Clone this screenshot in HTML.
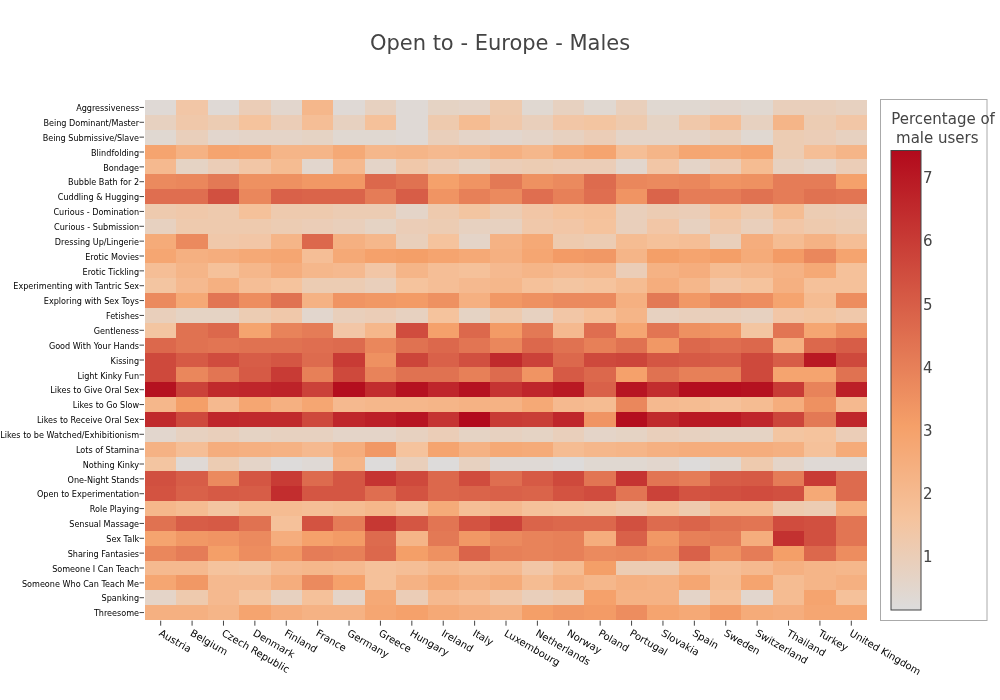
<!DOCTYPE html>
<html><head><meta charset="utf-8"><title>Open to - Europe - Males</title>
<style>html,body{margin:0;padding:0;background:#fff}svg{display:block;will-change:transform}text{font-family:"DejaVu Sans","Liberation Sans",sans-serif;fill:#444;white-space:pre}.yl{font-size:8.1px;text-anchor:end;fill:#000}.xl{font-size:10px;text-anchor:start;fill:#000}.cb{font-size:15px}.hm rect{shape-rendering:crispEdges}.tk{stroke:#444;stroke-width:1;fill:none}</style></head><body>
<svg width="1000" height="700" viewBox="0 0 1000 700">
<rect width="1000" height="700" fill="#fff"/>
<g class="hm">
<rect x="145" y="100" width="31" height="15" fill="rgb(223,217,213)"/>
<rect x="176" y="100" width="32" height="15" fill="rgb(242,198,166)"/>
<rect x="208" y="100" width="31" height="15" fill="rgb(223,217,213)"/>
<rect x="239" y="100" width="32" height="15" fill="rgb(235,205,183)"/>
<rect x="271" y="100" width="31" height="15" fill="rgb(226,214,205)"/>
<rect x="302" y="100" width="31" height="15" fill="rgb(245,183,139)"/>
<rect x="333" y="100" width="32" height="15" fill="rgb(223,217,213)"/>
<rect x="365" y="100" width="31" height="15" fill="rgb(231,209,192)"/>
<rect x="396" y="100" width="32" height="15" fill="rgb(223,217,213)"/>
<rect x="428" y="100" width="31" height="15" fill="rgb(229,211,196)"/>
<rect x="459" y="100" width="31" height="15" fill="rgb(228,212,200)"/>
<rect x="490" y="100" width="32" height="15" fill="rgb(238,202,174)"/>
<rect x="522" y="100" width="31" height="15" fill="rgb(224,216,209)"/>
<rect x="553" y="100" width="31" height="15" fill="rgb(231,209,192)"/>
<rect x="584" y="100" width="32" height="15" fill="rgb(224,216,209)"/>
<rect x="616" y="100" width="31" height="15" fill="rgb(233,207,187)"/>
<rect x="647" y="100" width="32" height="15" fill="rgb(224,216,209)"/>
<rect x="679" y="100" width="31" height="15" fill="rgb(224,216,209)"/>
<rect x="710" y="100" width="31" height="15" fill="rgb(226,214,205)"/>
<rect x="741" y="100" width="32" height="15" fill="rgb(224,216,209)"/>
<rect x="773" y="100" width="31" height="15" fill="rgb(233,207,187)"/>
<rect x="804" y="100" width="32" height="15" fill="rgb(233,207,187)"/>
<rect x="836" y="100" width="31" height="15" fill="rgb(231,209,192)"/>
<rect x="145" y="115" width="31" height="15" fill="rgb(231,209,192)"/>
<rect x="176" y="115" width="32" height="15" fill="rgb(240,200,170)"/>
<rect x="208" y="115" width="31" height="15" fill="rgb(236,204,179)"/>
<rect x="239" y="115" width="32" height="15" fill="rgb(245,195,157)"/>
<rect x="271" y="115" width="31" height="15" fill="rgb(235,205,183)"/>
<rect x="302" y="115" width="31" height="15" fill="rgb(245,190,150)"/>
<rect x="333" y="115" width="32" height="15" fill="rgb(231,209,192)"/>
<rect x="365" y="115" width="31" height="15" fill="rgb(245,193,154)"/>
<rect x="396" y="115" width="32" height="15" fill="rgb(223,217,213)"/>
<rect x="428" y="115" width="31" height="15" fill="rgb(238,202,174)"/>
<rect x="459" y="115" width="31" height="15" fill="rgb(245,188,146)"/>
<rect x="490" y="115" width="32" height="15" fill="rgb(240,200,170)"/>
<rect x="522" y="115" width="31" height="15" fill="rgb(233,207,187)"/>
<rect x="553" y="115" width="31" height="15" fill="rgb(242,198,166)"/>
<rect x="584" y="115" width="32" height="15" fill="rgb(243,197,161)"/>
<rect x="616" y="115" width="31" height="15" fill="rgb(238,202,174)"/>
<rect x="647" y="115" width="32" height="15" fill="rgb(229,211,196)"/>
<rect x="679" y="115" width="31" height="15" fill="rgb(240,200,170)"/>
<rect x="710" y="115" width="31" height="15" fill="rgb(245,190,150)"/>
<rect x="741" y="115" width="32" height="15" fill="rgb(231,209,192)"/>
<rect x="773" y="115" width="31" height="15" fill="rgb(245,181,136)"/>
<rect x="804" y="115" width="32" height="15" fill="rgb(236,204,179)"/>
<rect x="836" y="115" width="31" height="15" fill="rgb(242,198,166)"/>
<rect x="145" y="130" width="31" height="15" fill="rgb(224,216,209)"/>
<rect x="176" y="130" width="32" height="15" fill="rgb(233,207,187)"/>
<rect x="208" y="130" width="31" height="15" fill="rgb(226,214,205)"/>
<rect x="239" y="130" width="32" height="15" fill="rgb(228,212,200)"/>
<rect x="271" y="130" width="31" height="15" fill="rgb(228,212,200)"/>
<rect x="302" y="130" width="31" height="15" fill="rgb(229,211,196)"/>
<rect x="333" y="130" width="32" height="15" fill="rgb(224,216,209)"/>
<rect x="365" y="130" width="31" height="15" fill="rgb(224,216,209)"/>
<rect x="396" y="130" width="32" height="15" fill="rgb(223,217,213)"/>
<rect x="428" y="130" width="31" height="15" fill="rgb(233,207,187)"/>
<rect x="459" y="130" width="31" height="15" fill="rgb(228,212,200)"/>
<rect x="490" y="130" width="32" height="15" fill="rgb(226,214,205)"/>
<rect x="522" y="130" width="31" height="15" fill="rgb(228,212,200)"/>
<rect x="553" y="130" width="31" height="15" fill="rgb(231,209,192)"/>
<rect x="584" y="130" width="32" height="15" fill="rgb(235,205,183)"/>
<rect x="616" y="130" width="31" height="15" fill="rgb(228,212,200)"/>
<rect x="647" y="130" width="32" height="15" fill="rgb(228,212,200)"/>
<rect x="679" y="130" width="31" height="15" fill="rgb(228,212,200)"/>
<rect x="710" y="130" width="31" height="15" fill="rgb(231,209,192)"/>
<rect x="741" y="130" width="32" height="15" fill="rgb(224,216,209)"/>
<rect x="773" y="130" width="31" height="15" fill="rgb(236,204,179)"/>
<rect x="804" y="130" width="32" height="15" fill="rgb(235,205,183)"/>
<rect x="836" y="130" width="31" height="15" fill="rgb(231,209,192)"/>
<rect x="145" y="145" width="31" height="14" fill="rgb(245,164,111)"/>
<rect x="176" y="145" width="32" height="14" fill="rgb(245,178,132)"/>
<rect x="208" y="145" width="31" height="14" fill="rgb(245,164,111)"/>
<rect x="239" y="145" width="32" height="14" fill="rgb(245,166,114)"/>
<rect x="271" y="145" width="31" height="14" fill="rgb(245,181,136)"/>
<rect x="302" y="145" width="31" height="14" fill="rgb(245,181,136)"/>
<rect x="333" y="145" width="32" height="14" fill="rgb(245,169,118)"/>
<rect x="365" y="145" width="31" height="14" fill="rgb(245,183,139)"/>
<rect x="396" y="145" width="32" height="14" fill="rgb(245,181,136)"/>
<rect x="428" y="145" width="31" height="14" fill="rgb(245,185,143)"/>
<rect x="459" y="145" width="31" height="14" fill="rgb(245,183,139)"/>
<rect x="490" y="145" width="32" height="14" fill="rgb(245,176,129)"/>
<rect x="522" y="145" width="31" height="14" fill="rgb(245,183,139)"/>
<rect x="553" y="145" width="31" height="14" fill="rgb(245,171,121)"/>
<rect x="584" y="145" width="32" height="14" fill="rgb(245,164,111)"/>
<rect x="616" y="145" width="31" height="14" fill="rgb(245,190,150)"/>
<rect x="647" y="145" width="32" height="14" fill="rgb(245,181,136)"/>
<rect x="679" y="145" width="31" height="14" fill="rgb(245,166,114)"/>
<rect x="710" y="145" width="31" height="14" fill="rgb(245,169,118)"/>
<rect x="741" y="145" width="32" height="14" fill="rgb(245,164,111)"/>
<rect x="773" y="145" width="31" height="14" fill="rgb(236,204,179)"/>
<rect x="804" y="145" width="32" height="14" fill="rgb(245,190,150)"/>
<rect x="836" y="145" width="31" height="14" fill="rgb(245,181,136)"/>
<rect x="145" y="159" width="31" height="15" fill="rgb(245,185,143)"/>
<rect x="176" y="159" width="32" height="15" fill="rgb(229,211,196)"/>
<rect x="208" y="159" width="31" height="15" fill="rgb(235,205,183)"/>
<rect x="239" y="159" width="32" height="15" fill="rgb(242,198,166)"/>
<rect x="271" y="159" width="31" height="15" fill="rgb(245,188,146)"/>
<rect x="302" y="159" width="31" height="15" fill="rgb(226,214,205)"/>
<rect x="333" y="159" width="32" height="15" fill="rgb(245,185,143)"/>
<rect x="365" y="159" width="31" height="15" fill="rgb(228,212,200)"/>
<rect x="396" y="159" width="32" height="15" fill="rgb(240,200,170)"/>
<rect x="428" y="159" width="31" height="15" fill="rgb(235,205,183)"/>
<rect x="459" y="159" width="31" height="15" fill="rgb(229,211,196)"/>
<rect x="490" y="159" width="32" height="15" fill="rgb(235,205,183)"/>
<rect x="522" y="159" width="31" height="15" fill="rgb(236,204,179)"/>
<rect x="553" y="159" width="31" height="15" fill="rgb(235,205,183)"/>
<rect x="584" y="159" width="32" height="15" fill="rgb(235,205,183)"/>
<rect x="616" y="159" width="31" height="15" fill="rgb(226,214,205)"/>
<rect x="647" y="159" width="32" height="15" fill="rgb(242,198,166)"/>
<rect x="679" y="159" width="31" height="15" fill="rgb(228,212,200)"/>
<rect x="710" y="159" width="31" height="15" fill="rgb(235,205,183)"/>
<rect x="741" y="159" width="32" height="15" fill="rgb(245,188,146)"/>
<rect x="773" y="159" width="31" height="15" fill="rgb(231,209,192)"/>
<rect x="804" y="159" width="32" height="15" fill="rgb(228,212,200)"/>
<rect x="836" y="159" width="31" height="15" fill="rgb(235,205,183)"/>
<rect x="145" y="174" width="31" height="15" fill="rgb(235,138,94)"/>
<rect x="176" y="174" width="32" height="15" fill="rgb(234,135,92)"/>
<rect x="208" y="174" width="31" height="15" fill="rgb(227,121,85)"/>
<rect x="239" y="174" width="32" height="15" fill="rgb(238,145,97)"/>
<rect x="271" y="174" width="31" height="15" fill="rgb(238,145,97)"/>
<rect x="302" y="174" width="31" height="15" fill="rgb(241,152,101)"/>
<rect x="333" y="174" width="32" height="15" fill="rgb(241,152,101)"/>
<rect x="365" y="174" width="31" height="15" fill="rgb(220,104,76)"/>
<rect x="396" y="174" width="32" height="15" fill="rgb(224,114,81)"/>
<rect x="428" y="174" width="31" height="15" fill="rgb(245,161,107)"/>
<rect x="459" y="174" width="31" height="15" fill="rgb(240,148,99)"/>
<rect x="490" y="174" width="32" height="15" fill="rgb(227,121,85)"/>
<rect x="522" y="174" width="31" height="15" fill="rgb(238,145,97)"/>
<rect x="553" y="174" width="31" height="15" fill="rgb(235,138,94)"/>
<rect x="584" y="174" width="32" height="15" fill="rgb(221,107,78)"/>
<rect x="616" y="174" width="31" height="15" fill="rgb(234,135,92)"/>
<rect x="647" y="174" width="32" height="15" fill="rgb(235,138,94)"/>
<rect x="679" y="174" width="31" height="15" fill="rgb(234,135,92)"/>
<rect x="710" y="174" width="31" height="15" fill="rgb(240,148,99)"/>
<rect x="741" y="174" width="32" height="15" fill="rgb(238,145,97)"/>
<rect x="773" y="174" width="31" height="15" fill="rgb(229,124,87)"/>
<rect x="804" y="174" width="32" height="15" fill="rgb(229,124,87)"/>
<rect x="836" y="174" width="31" height="15" fill="rgb(245,161,107)"/>
<rect x="145" y="189" width="31" height="15" fill="rgb(223,110,80)"/>
<rect x="176" y="189" width="32" height="15" fill="rgb(223,110,80)"/>
<rect x="208" y="189" width="31" height="15" fill="rgb(209,80,64)"/>
<rect x="239" y="189" width="32" height="15" fill="rgb(234,135,92)"/>
<rect x="271" y="189" width="31" height="15" fill="rgb(217,97,73)"/>
<rect x="302" y="189" width="31" height="15" fill="rgb(218,100,74)"/>
<rect x="333" y="189" width="32" height="15" fill="rgb(218,100,74)"/>
<rect x="365" y="189" width="31" height="15" fill="rgb(229,124,87)"/>
<rect x="396" y="189" width="32" height="15" fill="rgb(215,93,71)"/>
<rect x="428" y="189" width="31" height="15" fill="rgb(240,148,99)"/>
<rect x="459" y="189" width="31" height="15" fill="rgb(231,128,88)"/>
<rect x="490" y="189" width="32" height="15" fill="rgb(235,138,94)"/>
<rect x="522" y="189" width="31" height="15" fill="rgb(223,110,80)"/>
<rect x="553" y="189" width="31" height="15" fill="rgb(231,128,88)"/>
<rect x="584" y="189" width="32" height="15" fill="rgb(223,110,80)"/>
<rect x="616" y="189" width="31" height="15" fill="rgb(240,148,99)"/>
<rect x="647" y="189" width="32" height="15" fill="rgb(218,100,74)"/>
<rect x="679" y="189" width="31" height="15" fill="rgb(229,124,87)"/>
<rect x="710" y="189" width="31" height="15" fill="rgb(229,124,87)"/>
<rect x="741" y="189" width="32" height="15" fill="rgb(224,114,81)"/>
<rect x="773" y="189" width="31" height="15" fill="rgb(229,124,87)"/>
<rect x="804" y="189" width="32" height="15" fill="rgb(224,114,81)"/>
<rect x="836" y="189" width="31" height="15" fill="rgb(226,117,83)"/>
<rect x="145" y="204" width="31" height="15" fill="rgb(238,202,174)"/>
<rect x="176" y="204" width="32" height="15" fill="rgb(240,200,170)"/>
<rect x="208" y="204" width="31" height="15" fill="rgb(238,202,174)"/>
<rect x="239" y="204" width="32" height="15" fill="rgb(245,193,154)"/>
<rect x="271" y="204" width="31" height="15" fill="rgb(238,202,174)"/>
<rect x="302" y="204" width="31" height="15" fill="rgb(238,202,174)"/>
<rect x="333" y="204" width="32" height="15" fill="rgb(236,204,179)"/>
<rect x="365" y="204" width="31" height="15" fill="rgb(236,204,179)"/>
<rect x="396" y="204" width="32" height="15" fill="rgb(228,212,200)"/>
<rect x="428" y="204" width="31" height="15" fill="rgb(238,202,174)"/>
<rect x="459" y="204" width="31" height="15" fill="rgb(243,197,161)"/>
<rect x="490" y="204" width="32" height="15" fill="rgb(236,204,179)"/>
<rect x="522" y="204" width="31" height="15" fill="rgb(242,198,166)"/>
<rect x="553" y="204" width="31" height="15" fill="rgb(245,195,157)"/>
<rect x="584" y="204" width="32" height="15" fill="rgb(245,193,154)"/>
<rect x="616" y="204" width="31" height="15" fill="rgb(233,207,187)"/>
<rect x="647" y="204" width="32" height="15" fill="rgb(236,204,179)"/>
<rect x="679" y="204" width="31" height="15" fill="rgb(235,205,183)"/>
<rect x="710" y="204" width="31" height="15" fill="rgb(245,195,157)"/>
<rect x="741" y="204" width="32" height="15" fill="rgb(238,202,174)"/>
<rect x="773" y="204" width="31" height="15" fill="rgb(245,188,146)"/>
<rect x="804" y="204" width="32" height="15" fill="rgb(236,204,179)"/>
<rect x="836" y="204" width="31" height="15" fill="rgb(235,205,183)"/>
<rect x="145" y="219" width="31" height="15" fill="rgb(231,209,192)"/>
<rect x="176" y="219" width="32" height="15" fill="rgb(238,202,174)"/>
<rect x="208" y="219" width="31" height="15" fill="rgb(238,202,174)"/>
<rect x="239" y="219" width="32" height="15" fill="rgb(238,202,174)"/>
<rect x="271" y="219" width="31" height="15" fill="rgb(236,204,179)"/>
<rect x="302" y="219" width="31" height="15" fill="rgb(235,205,183)"/>
<rect x="333" y="219" width="32" height="15" fill="rgb(233,207,187)"/>
<rect x="365" y="219" width="31" height="15" fill="rgb(229,211,196)"/>
<rect x="396" y="219" width="32" height="15" fill="rgb(235,205,183)"/>
<rect x="428" y="219" width="31" height="15" fill="rgb(236,204,179)"/>
<rect x="459" y="219" width="31" height="15" fill="rgb(231,209,192)"/>
<rect x="490" y="219" width="32" height="15" fill="rgb(231,209,192)"/>
<rect x="522" y="219" width="31" height="15" fill="rgb(240,200,170)"/>
<rect x="553" y="219" width="31" height="15" fill="rgb(242,198,166)"/>
<rect x="584" y="219" width="32" height="15" fill="rgb(245,195,157)"/>
<rect x="616" y="219" width="31" height="15" fill="rgb(233,207,187)"/>
<rect x="647" y="219" width="32" height="15" fill="rgb(242,198,166)"/>
<rect x="679" y="219" width="31" height="15" fill="rgb(231,209,192)"/>
<rect x="710" y="219" width="31" height="15" fill="rgb(240,200,170)"/>
<rect x="741" y="219" width="32" height="15" fill="rgb(233,207,187)"/>
<rect x="773" y="219" width="31" height="15" fill="rgb(242,198,166)"/>
<rect x="804" y="219" width="32" height="15" fill="rgb(238,202,174)"/>
<rect x="836" y="219" width="31" height="15" fill="rgb(236,204,179)"/>
<rect x="145" y="234" width="31" height="15" fill="rgb(245,171,121)"/>
<rect x="176" y="234" width="32" height="15" fill="rgb(235,138,94)"/>
<rect x="208" y="234" width="31" height="15" fill="rgb(240,200,170)"/>
<rect x="239" y="234" width="32" height="15" fill="rgb(242,198,166)"/>
<rect x="271" y="234" width="31" height="15" fill="rgb(245,181,136)"/>
<rect x="302" y="234" width="31" height="15" fill="rgb(220,104,76)"/>
<rect x="333" y="234" width="32" height="15" fill="rgb(245,176,129)"/>
<rect x="365" y="234" width="31" height="15" fill="rgb(245,183,139)"/>
<rect x="396" y="234" width="32" height="15" fill="rgb(233,207,187)"/>
<rect x="428" y="234" width="31" height="15" fill="rgb(245,195,157)"/>
<rect x="459" y="234" width="31" height="15" fill="rgb(228,212,200)"/>
<rect x="490" y="234" width="32" height="15" fill="rgb(245,178,132)"/>
<rect x="522" y="234" width="31" height="15" fill="rgb(245,169,118)"/>
<rect x="553" y="234" width="31" height="15" fill="rgb(238,202,174)"/>
<rect x="584" y="234" width="32" height="15" fill="rgb(236,204,179)"/>
<rect x="616" y="234" width="31" height="15" fill="rgb(245,188,146)"/>
<rect x="647" y="234" width="32" height="15" fill="rgb(245,193,154)"/>
<rect x="679" y="234" width="31" height="15" fill="rgb(245,190,150)"/>
<rect x="710" y="234" width="31" height="15" fill="rgb(233,207,187)"/>
<rect x="741" y="234" width="32" height="15" fill="rgb(245,173,125)"/>
<rect x="773" y="234" width="31" height="15" fill="rgb(245,188,146)"/>
<rect x="804" y="234" width="32" height="15" fill="rgb(245,178,132)"/>
<rect x="836" y="234" width="31" height="15" fill="rgb(245,190,150)"/>
<rect x="145" y="249" width="31" height="14" fill="rgb(245,166,114)"/>
<rect x="176" y="249" width="32" height="14" fill="rgb(245,176,129)"/>
<rect x="208" y="249" width="31" height="14" fill="rgb(245,173,125)"/>
<rect x="239" y="249" width="32" height="14" fill="rgb(245,169,118)"/>
<rect x="271" y="249" width="31" height="14" fill="rgb(245,166,114)"/>
<rect x="302" y="249" width="31" height="14" fill="rgb(245,190,150)"/>
<rect x="333" y="249" width="32" height="14" fill="rgb(245,169,118)"/>
<rect x="365" y="249" width="31" height="14" fill="rgb(245,161,107)"/>
<rect x="396" y="249" width="32" height="14" fill="rgb(244,159,104)"/>
<rect x="428" y="249" width="31" height="14" fill="rgb(245,164,111)"/>
<rect x="459" y="249" width="31" height="14" fill="rgb(245,169,118)"/>
<rect x="490" y="249" width="32" height="14" fill="rgb(245,176,129)"/>
<rect x="522" y="249" width="31" height="14" fill="rgb(245,166,114)"/>
<rect x="553" y="249" width="31" height="14" fill="rgb(243,155,102)"/>
<rect x="584" y="249" width="32" height="14" fill="rgb(241,152,101)"/>
<rect x="616" y="249" width="31" height="14" fill="rgb(245,181,136)"/>
<rect x="647" y="249" width="32" height="14" fill="rgb(244,159,104)"/>
<rect x="679" y="249" width="31" height="14" fill="rgb(245,164,111)"/>
<rect x="710" y="249" width="31" height="14" fill="rgb(244,159,104)"/>
<rect x="741" y="249" width="32" height="14" fill="rgb(245,171,121)"/>
<rect x="773" y="249" width="31" height="14" fill="rgb(243,155,102)"/>
<rect x="804" y="249" width="32" height="14" fill="rgb(234,135,92)"/>
<rect x="836" y="249" width="31" height="14" fill="rgb(245,164,111)"/>
<rect x="145" y="263" width="31" height="15" fill="rgb(245,190,150)"/>
<rect x="176" y="263" width="32" height="15" fill="rgb(245,181,136)"/>
<rect x="208" y="263" width="31" height="15" fill="rgb(245,193,154)"/>
<rect x="239" y="263" width="32" height="15" fill="rgb(245,183,139)"/>
<rect x="271" y="263" width="31" height="15" fill="rgb(245,173,125)"/>
<rect x="302" y="263" width="31" height="15" fill="rgb(245,183,139)"/>
<rect x="333" y="263" width="32" height="15" fill="rgb(245,185,143)"/>
<rect x="365" y="263" width="31" height="15" fill="rgb(242,198,166)"/>
<rect x="396" y="263" width="32" height="15" fill="rgb(245,181,136)"/>
<rect x="428" y="263" width="31" height="15" fill="rgb(245,190,150)"/>
<rect x="459" y="263" width="31" height="15" fill="rgb(245,193,154)"/>
<rect x="490" y="263" width="32" height="15" fill="rgb(245,185,143)"/>
<rect x="522" y="263" width="31" height="15" fill="rgb(245,181,136)"/>
<rect x="553" y="263" width="31" height="15" fill="rgb(245,185,143)"/>
<rect x="584" y="263" width="32" height="15" fill="rgb(245,183,139)"/>
<rect x="616" y="263" width="31" height="15" fill="rgb(235,205,183)"/>
<rect x="647" y="263" width="32" height="15" fill="rgb(245,178,132)"/>
<rect x="679" y="263" width="31" height="15" fill="rgb(245,173,125)"/>
<rect x="710" y="263" width="31" height="15" fill="rgb(245,188,146)"/>
<rect x="741" y="263" width="32" height="15" fill="rgb(245,183,139)"/>
<rect x="773" y="263" width="31" height="15" fill="rgb(245,178,132)"/>
<rect x="804" y="263" width="32" height="15" fill="rgb(245,169,118)"/>
<rect x="836" y="263" width="31" height="15" fill="rgb(245,193,154)"/>
<rect x="145" y="278" width="31" height="15" fill="rgb(243,197,161)"/>
<rect x="176" y="278" width="32" height="15" fill="rgb(245,185,143)"/>
<rect x="208" y="278" width="31" height="15" fill="rgb(245,176,129)"/>
<rect x="239" y="278" width="32" height="15" fill="rgb(245,190,150)"/>
<rect x="271" y="278" width="31" height="15" fill="rgb(245,195,157)"/>
<rect x="302" y="278" width="31" height="15" fill="rgb(236,204,179)"/>
<rect x="333" y="278" width="32" height="15" fill="rgb(236,204,179)"/>
<rect x="365" y="278" width="31" height="15" fill="rgb(233,207,187)"/>
<rect x="396" y="278" width="32" height="15" fill="rgb(245,195,157)"/>
<rect x="428" y="278" width="31" height="15" fill="rgb(245,190,150)"/>
<rect x="459" y="278" width="31" height="15" fill="rgb(245,185,143)"/>
<rect x="490" y="278" width="32" height="15" fill="rgb(245,183,139)"/>
<rect x="522" y="278" width="31" height="15" fill="rgb(245,193,154)"/>
<rect x="553" y="278" width="31" height="15" fill="rgb(243,197,161)"/>
<rect x="584" y="278" width="32" height="15" fill="rgb(245,195,157)"/>
<rect x="616" y="278" width="31" height="15" fill="rgb(245,188,146)"/>
<rect x="647" y="278" width="32" height="15" fill="rgb(245,173,125)"/>
<rect x="679" y="278" width="31" height="15" fill="rgb(245,183,139)"/>
<rect x="710" y="278" width="31" height="15" fill="rgb(242,198,166)"/>
<rect x="741" y="278" width="32" height="15" fill="rgb(245,195,157)"/>
<rect x="773" y="278" width="31" height="15" fill="rgb(245,176,129)"/>
<rect x="804" y="278" width="32" height="15" fill="rgb(245,193,154)"/>
<rect x="836" y="278" width="31" height="15" fill="rgb(245,193,154)"/>
<rect x="145" y="293" width="31" height="15" fill="rgb(235,138,94)"/>
<rect x="176" y="293" width="32" height="15" fill="rgb(245,169,118)"/>
<rect x="208" y="293" width="31" height="15" fill="rgb(226,117,83)"/>
<rect x="239" y="293" width="32" height="15" fill="rgb(237,141,95)"/>
<rect x="271" y="293" width="31" height="15" fill="rgb(224,114,81)"/>
<rect x="302" y="293" width="31" height="15" fill="rgb(245,178,132)"/>
<rect x="333" y="293" width="32" height="15" fill="rgb(240,148,99)"/>
<rect x="365" y="293" width="31" height="15" fill="rgb(241,152,101)"/>
<rect x="396" y="293" width="32" height="15" fill="rgb(243,155,102)"/>
<rect x="428" y="293" width="31" height="15" fill="rgb(238,145,97)"/>
<rect x="459" y="293" width="31" height="15" fill="rgb(245,176,129)"/>
<rect x="490" y="293" width="32" height="15" fill="rgb(241,152,101)"/>
<rect x="522" y="293" width="31" height="15" fill="rgb(238,145,97)"/>
<rect x="553" y="293" width="31" height="15" fill="rgb(235,138,94)"/>
<rect x="584" y="293" width="32" height="15" fill="rgb(235,138,94)"/>
<rect x="616" y="293" width="31" height="15" fill="rgb(245,176,129)"/>
<rect x="647" y="293" width="32" height="15" fill="rgb(227,121,85)"/>
<rect x="679" y="293" width="31" height="15" fill="rgb(241,152,101)"/>
<rect x="710" y="293" width="31" height="15" fill="rgb(234,135,92)"/>
<rect x="741" y="293" width="32" height="15" fill="rgb(237,141,95)"/>
<rect x="773" y="293" width="31" height="15" fill="rgb(245,164,111)"/>
<rect x="804" y="293" width="32" height="15" fill="rgb(245,188,146)"/>
<rect x="836" y="293" width="31" height="15" fill="rgb(237,141,95)"/>
<rect x="145" y="308" width="31" height="15" fill="rgb(233,207,187)"/>
<rect x="176" y="308" width="32" height="15" fill="rgb(229,211,196)"/>
<rect x="208" y="308" width="31" height="15" fill="rgb(229,211,196)"/>
<rect x="239" y="308" width="32" height="15" fill="rgb(236,204,179)"/>
<rect x="271" y="308" width="31" height="15" fill="rgb(240,200,170)"/>
<rect x="302" y="308" width="31" height="15" fill="rgb(226,214,205)"/>
<rect x="333" y="308" width="32" height="15" fill="rgb(233,207,187)"/>
<rect x="365" y="308" width="31" height="15" fill="rgb(235,205,183)"/>
<rect x="396" y="308" width="32" height="15" fill="rgb(231,209,192)"/>
<rect x="428" y="308" width="31" height="15" fill="rgb(245,195,157)"/>
<rect x="459" y="308" width="31" height="15" fill="rgb(229,211,196)"/>
<rect x="490" y="308" width="32" height="15" fill="rgb(238,202,174)"/>
<rect x="522" y="308" width="31" height="15" fill="rgb(231,209,192)"/>
<rect x="553" y="308" width="31" height="15" fill="rgb(242,198,166)"/>
<rect x="584" y="308" width="32" height="15" fill="rgb(245,193,154)"/>
<rect x="616" y="308" width="31" height="15" fill="rgb(245,181,136)"/>
<rect x="647" y="308" width="32" height="15" fill="rgb(231,209,192)"/>
<rect x="679" y="308" width="31" height="15" fill="rgb(233,207,187)"/>
<rect x="710" y="308" width="31" height="15" fill="rgb(233,207,187)"/>
<rect x="741" y="308" width="32" height="15" fill="rgb(231,209,192)"/>
<rect x="773" y="308" width="31" height="15" fill="rgb(242,198,166)"/>
<rect x="804" y="308" width="32" height="15" fill="rgb(243,197,161)"/>
<rect x="836" y="308" width="31" height="15" fill="rgb(240,200,170)"/>
<rect x="145" y="323" width="31" height="15" fill="rgb(243,197,161)"/>
<rect x="176" y="323" width="32" height="15" fill="rgb(224,114,81)"/>
<rect x="208" y="323" width="31" height="15" fill="rgb(220,104,76)"/>
<rect x="239" y="323" width="32" height="15" fill="rgb(245,164,111)"/>
<rect x="271" y="323" width="31" height="15" fill="rgb(232,131,90)"/>
<rect x="302" y="323" width="31" height="15" fill="rgb(229,124,87)"/>
<rect x="333" y="323" width="32" height="15" fill="rgb(242,198,166)"/>
<rect x="365" y="323" width="31" height="15" fill="rgb(245,183,139)"/>
<rect x="396" y="323" width="32" height="15" fill="rgb(208,76,62)"/>
<rect x="428" y="323" width="31" height="15" fill="rgb(245,161,107)"/>
<rect x="459" y="323" width="31" height="15" fill="rgb(220,104,76)"/>
<rect x="490" y="323" width="32" height="15" fill="rgb(243,155,102)"/>
<rect x="522" y="323" width="31" height="15" fill="rgb(227,121,85)"/>
<rect x="553" y="323" width="31" height="15" fill="rgb(245,185,143)"/>
<rect x="584" y="323" width="32" height="15" fill="rgb(223,110,80)"/>
<rect x="616" y="323" width="31" height="15" fill="rgb(245,166,114)"/>
<rect x="647" y="323" width="32" height="15" fill="rgb(226,117,83)"/>
<rect x="679" y="323" width="31" height="15" fill="rgb(238,145,97)"/>
<rect x="710" y="323" width="31" height="15" fill="rgb(240,148,99)"/>
<rect x="741" y="323" width="32" height="15" fill="rgb(243,197,161)"/>
<rect x="773" y="323" width="31" height="15" fill="rgb(226,117,83)"/>
<rect x="804" y="323" width="32" height="15" fill="rgb(245,166,114)"/>
<rect x="836" y="323" width="31" height="15" fill="rgb(238,145,97)"/>
<rect x="145" y="338" width="31" height="15" fill="rgb(220,104,76)"/>
<rect x="176" y="338" width="32" height="15" fill="rgb(224,114,81)"/>
<rect x="208" y="338" width="31" height="15" fill="rgb(226,117,83)"/>
<rect x="239" y="338" width="32" height="15" fill="rgb(224,114,81)"/>
<rect x="271" y="338" width="31" height="15" fill="rgb(224,114,81)"/>
<rect x="302" y="338" width="31" height="15" fill="rgb(223,110,80)"/>
<rect x="333" y="338" width="32" height="15" fill="rgb(221,107,78)"/>
<rect x="365" y="338" width="31" height="15" fill="rgb(234,135,92)"/>
<rect x="396" y="338" width="32" height="15" fill="rgb(224,114,81)"/>
<rect x="428" y="338" width="31" height="15" fill="rgb(220,104,76)"/>
<rect x="459" y="338" width="31" height="15" fill="rgb(226,117,83)"/>
<rect x="490" y="338" width="32" height="15" fill="rgb(234,135,92)"/>
<rect x="522" y="338" width="31" height="15" fill="rgb(220,104,76)"/>
<rect x="553" y="338" width="31" height="15" fill="rgb(224,114,81)"/>
<rect x="584" y="338" width="32" height="15" fill="rgb(231,128,88)"/>
<rect x="616" y="338" width="31" height="15" fill="rgb(224,114,81)"/>
<rect x="647" y="338" width="32" height="15" fill="rgb(241,152,101)"/>
<rect x="679" y="338" width="31" height="15" fill="rgb(220,104,76)"/>
<rect x="710" y="338" width="31" height="15" fill="rgb(223,110,80)"/>
<rect x="741" y="338" width="32" height="15" fill="rgb(220,104,76)"/>
<rect x="773" y="338" width="31" height="15" fill="rgb(245,176,129)"/>
<rect x="804" y="338" width="32" height="15" fill="rgb(220,104,76)"/>
<rect x="836" y="338" width="31" height="15" fill="rgb(215,93,71)"/>
<rect x="145" y="353" width="31" height="14" fill="rgb(206,73,60)"/>
<rect x="176" y="353" width="32" height="14" fill="rgb(214,90,69)"/>
<rect x="208" y="353" width="31" height="14" fill="rgb(208,76,62)"/>
<rect x="239" y="353" width="32" height="14" fill="rgb(215,93,71)"/>
<rect x="271" y="353" width="31" height="14" fill="rgb(212,86,67)"/>
<rect x="302" y="353" width="31" height="14" fill="rgb(221,107,78)"/>
<rect x="333" y="353" width="32" height="14" fill="rgb(200,59,53)"/>
<rect x="365" y="353" width="31" height="14" fill="rgb(238,145,97)"/>
<rect x="396" y="353" width="32" height="14" fill="rgb(204,69,58)"/>
<rect x="428" y="353" width="31" height="14" fill="rgb(217,97,73)"/>
<rect x="459" y="353" width="31" height="14" fill="rgb(209,80,64)"/>
<rect x="490" y="353" width="32" height="14" fill="rgb(192,42,44)"/>
<rect x="522" y="353" width="31" height="14" fill="rgb(203,66,57)"/>
<rect x="553" y="353" width="31" height="14" fill="rgb(220,104,76)"/>
<rect x="584" y="353" width="32" height="14" fill="rgb(206,73,60)"/>
<rect x="616" y="353" width="31" height="14" fill="rgb(204,69,58)"/>
<rect x="647" y="353" width="32" height="14" fill="rgb(212,86,67)"/>
<rect x="679" y="353" width="31" height="14" fill="rgb(214,90,69)"/>
<rect x="710" y="353" width="31" height="14" fill="rgb(215,93,71)"/>
<rect x="741" y="353" width="32" height="14" fill="rgb(206,73,60)"/>
<rect x="773" y="353" width="31" height="14" fill="rgb(215,93,71)"/>
<rect x="804" y="353" width="32" height="14" fill="rgb(185,25,35)"/>
<rect x="836" y="353" width="31" height="14" fill="rgb(206,73,60)"/>
<rect x="145" y="367" width="31" height="15" fill="rgb(206,73,60)"/>
<rect x="176" y="367" width="32" height="15" fill="rgb(234,135,92)"/>
<rect x="208" y="367" width="31" height="15" fill="rgb(226,117,83)"/>
<rect x="239" y="367" width="32" height="15" fill="rgb(214,90,69)"/>
<rect x="271" y="367" width="31" height="15" fill="rgb(200,59,53)"/>
<rect x="302" y="367" width="31" height="15" fill="rgb(231,128,88)"/>
<rect x="333" y="367" width="32" height="15" fill="rgb(206,73,60)"/>
<rect x="365" y="367" width="31" height="15" fill="rgb(232,131,90)"/>
<rect x="396" y="367" width="32" height="15" fill="rgb(224,114,81)"/>
<rect x="428" y="367" width="31" height="15" fill="rgb(224,114,81)"/>
<rect x="459" y="367" width="31" height="15" fill="rgb(231,128,88)"/>
<rect x="490" y="367" width="32" height="15" fill="rgb(221,107,78)"/>
<rect x="522" y="367" width="31" height="15" fill="rgb(240,148,99)"/>
<rect x="553" y="367" width="31" height="15" fill="rgb(214,90,69)"/>
<rect x="584" y="367" width="32" height="15" fill="rgb(220,104,76)"/>
<rect x="616" y="367" width="31" height="15" fill="rgb(245,161,107)"/>
<rect x="647" y="367" width="32" height="15" fill="rgb(224,114,81)"/>
<rect x="679" y="367" width="31" height="15" fill="rgb(231,128,88)"/>
<rect x="710" y="367" width="31" height="15" fill="rgb(231,128,88)"/>
<rect x="741" y="367" width="32" height="15" fill="rgb(206,73,60)"/>
<rect x="773" y="367" width="31" height="15" fill="rgb(245,164,111)"/>
<rect x="804" y="367" width="32" height="15" fill="rgb(245,164,111)"/>
<rect x="836" y="367" width="31" height="15" fill="rgb(224,114,81)"/>
<rect x="145" y="382" width="31" height="15" fill="rgb(181,18,32)"/>
<rect x="176" y="382" width="32" height="15" fill="rgb(203,66,57)"/>
<rect x="208" y="382" width="31" height="15" fill="rgb(192,42,44)"/>
<rect x="239" y="382" width="32" height="15" fill="rgb(191,38,43)"/>
<rect x="271" y="382" width="31" height="15" fill="rgb(189,35,41)"/>
<rect x="302" y="382" width="31" height="15" fill="rgb(203,66,57)"/>
<rect x="333" y="382" width="32" height="15" fill="rgb(180,14,30)"/>
<rect x="365" y="382" width="31" height="15" fill="rgb(194,45,46)"/>
<rect x="396" y="382" width="32" height="15" fill="rgb(181,18,32)"/>
<rect x="428" y="382" width="31" height="15" fill="rgb(191,38,43)"/>
<rect x="459" y="382" width="31" height="15" fill="rgb(181,18,32)"/>
<rect x="490" y="382" width="32" height="15" fill="rgb(197,52,50)"/>
<rect x="522" y="382" width="31" height="15" fill="rgb(191,38,43)"/>
<rect x="553" y="382" width="31" height="15" fill="rgb(185,25,35)"/>
<rect x="584" y="382" width="32" height="15" fill="rgb(217,97,73)"/>
<rect x="616" y="382" width="31" height="15" fill="rgb(183,21,34)"/>
<rect x="647" y="382" width="32" height="15" fill="rgb(194,45,46)"/>
<rect x="679" y="382" width="31" height="15" fill="rgb(180,14,30)"/>
<rect x="710" y="382" width="31" height="15" fill="rgb(180,14,30)"/>
<rect x="741" y="382" width="32" height="15" fill="rgb(181,18,32)"/>
<rect x="773" y="382" width="31" height="15" fill="rgb(200,59,53)"/>
<rect x="804" y="382" width="32" height="15" fill="rgb(232,131,90)"/>
<rect x="836" y="382" width="31" height="15" fill="rgb(188,31,39)"/>
<rect x="145" y="397" width="31" height="15" fill="rgb(245,183,139)"/>
<rect x="176" y="397" width="32" height="15" fill="rgb(244,159,104)"/>
<rect x="208" y="397" width="31" height="15" fill="rgb(245,185,143)"/>
<rect x="239" y="397" width="32" height="15" fill="rgb(245,166,114)"/>
<rect x="271" y="397" width="31" height="15" fill="rgb(245,176,129)"/>
<rect x="302" y="397" width="31" height="15" fill="rgb(245,166,114)"/>
<rect x="333" y="397" width="32" height="15" fill="rgb(245,185,143)"/>
<rect x="365" y="397" width="31" height="15" fill="rgb(245,183,139)"/>
<rect x="396" y="397" width="32" height="15" fill="rgb(245,183,139)"/>
<rect x="428" y="397" width="31" height="15" fill="rgb(245,181,136)"/>
<rect x="459" y="397" width="31" height="15" fill="rgb(245,178,132)"/>
<rect x="490" y="397" width="32" height="15" fill="rgb(245,178,132)"/>
<rect x="522" y="397" width="31" height="15" fill="rgb(245,169,118)"/>
<rect x="553" y="397" width="31" height="15" fill="rgb(245,185,143)"/>
<rect x="584" y="397" width="32" height="15" fill="rgb(245,188,146)"/>
<rect x="616" y="397" width="31" height="15" fill="rgb(234,135,92)"/>
<rect x="647" y="397" width="32" height="15" fill="rgb(245,185,143)"/>
<rect x="679" y="397" width="31" height="15" fill="rgb(245,188,146)"/>
<rect x="710" y="397" width="31" height="15" fill="rgb(245,193,154)"/>
<rect x="741" y="397" width="32" height="15" fill="rgb(245,188,146)"/>
<rect x="773" y="397" width="31" height="15" fill="rgb(245,173,125)"/>
<rect x="804" y="397" width="32" height="15" fill="rgb(238,145,97)"/>
<rect x="836" y="397" width="31" height="15" fill="rgb(245,185,143)"/>
<rect x="145" y="412" width="31" height="15" fill="rgb(192,42,44)"/>
<rect x="176" y="412" width="32" height="15" fill="rgb(206,73,60)"/>
<rect x="208" y="412" width="31" height="15" fill="rgb(191,38,43)"/>
<rect x="239" y="412" width="32" height="15" fill="rgb(192,42,44)"/>
<rect x="271" y="412" width="31" height="15" fill="rgb(192,42,44)"/>
<rect x="302" y="412" width="31" height="15" fill="rgb(206,73,60)"/>
<rect x="333" y="412" width="32" height="15" fill="rgb(191,38,43)"/>
<rect x="365" y="412" width="31" height="15" fill="rgb(188,31,39)"/>
<rect x="396" y="412" width="32" height="15" fill="rgb(183,21,34)"/>
<rect x="428" y="412" width="31" height="15" fill="rgb(197,52,50)"/>
<rect x="459" y="412" width="31" height="15" fill="rgb(178,11,28)"/>
<rect x="490" y="412" width="32" height="15" fill="rgb(200,59,53)"/>
<rect x="522" y="412" width="31" height="15" fill="rgb(201,62,55)"/>
<rect x="553" y="412" width="31" height="15" fill="rgb(191,38,43)"/>
<rect x="584" y="412" width="32" height="15" fill="rgb(240,148,99)"/>
<rect x="616" y="412" width="31" height="15" fill="rgb(180,14,30)"/>
<rect x="647" y="412" width="32" height="15" fill="rgb(192,42,44)"/>
<rect x="679" y="412" width="31" height="15" fill="rgb(185,25,35)"/>
<rect x="710" y="412" width="31" height="15" fill="rgb(185,25,35)"/>
<rect x="741" y="412" width="32" height="15" fill="rgb(191,38,43)"/>
<rect x="773" y="412" width="31" height="15" fill="rgb(204,69,58)"/>
<rect x="804" y="412" width="32" height="15" fill="rgb(227,121,85)"/>
<rect x="836" y="412" width="31" height="15" fill="rgb(191,38,43)"/>
<rect x="145" y="427" width="31" height="15" fill="rgb(226,214,205)"/>
<rect x="176" y="427" width="32" height="15" fill="rgb(231,209,192)"/>
<rect x="208" y="427" width="31" height="15" fill="rgb(233,207,187)"/>
<rect x="239" y="427" width="32" height="15" fill="rgb(229,211,196)"/>
<rect x="271" y="427" width="31" height="15" fill="rgb(231,209,192)"/>
<rect x="302" y="427" width="31" height="15" fill="rgb(231,209,192)"/>
<rect x="333" y="427" width="32" height="15" fill="rgb(228,212,200)"/>
<rect x="365" y="427" width="31" height="15" fill="rgb(228,212,200)"/>
<rect x="396" y="427" width="32" height="15" fill="rgb(231,209,192)"/>
<rect x="428" y="427" width="31" height="15" fill="rgb(235,205,183)"/>
<rect x="459" y="427" width="31" height="15" fill="rgb(229,211,196)"/>
<rect x="490" y="427" width="32" height="15" fill="rgb(231,209,192)"/>
<rect x="522" y="427" width="31" height="15" fill="rgb(229,211,196)"/>
<rect x="553" y="427" width="31" height="15" fill="rgb(233,207,187)"/>
<rect x="584" y="427" width="32" height="15" fill="rgb(228,212,200)"/>
<rect x="616" y="427" width="31" height="15" fill="rgb(229,211,196)"/>
<rect x="647" y="427" width="32" height="15" fill="rgb(233,207,187)"/>
<rect x="679" y="427" width="31" height="15" fill="rgb(231,209,192)"/>
<rect x="710" y="427" width="31" height="15" fill="rgb(229,211,196)"/>
<rect x="741" y="427" width="32" height="15" fill="rgb(229,211,196)"/>
<rect x="773" y="427" width="31" height="15" fill="rgb(243,197,161)"/>
<rect x="804" y="427" width="32" height="15" fill="rgb(245,195,157)"/>
<rect x="836" y="427" width="31" height="15" fill="rgb(235,205,183)"/>
<rect x="145" y="442" width="31" height="15" fill="rgb(245,178,132)"/>
<rect x="176" y="442" width="32" height="15" fill="rgb(245,190,150)"/>
<rect x="208" y="442" width="31" height="15" fill="rgb(245,173,125)"/>
<rect x="239" y="442" width="32" height="15" fill="rgb(245,176,129)"/>
<rect x="271" y="442" width="31" height="15" fill="rgb(245,178,132)"/>
<rect x="302" y="442" width="31" height="15" fill="rgb(245,185,143)"/>
<rect x="333" y="442" width="32" height="15" fill="rgb(245,173,125)"/>
<rect x="365" y="442" width="31" height="15" fill="rgb(241,152,101)"/>
<rect x="396" y="442" width="32" height="15" fill="rgb(245,195,157)"/>
<rect x="428" y="442" width="31" height="15" fill="rgb(245,164,111)"/>
<rect x="459" y="442" width="31" height="15" fill="rgb(245,178,132)"/>
<rect x="490" y="442" width="32" height="15" fill="rgb(245,169,118)"/>
<rect x="522" y="442" width="31" height="15" fill="rgb(245,171,121)"/>
<rect x="553" y="442" width="31" height="15" fill="rgb(245,188,146)"/>
<rect x="584" y="442" width="32" height="15" fill="rgb(245,183,139)"/>
<rect x="616" y="442" width="31" height="15" fill="rgb(245,181,136)"/>
<rect x="647" y="442" width="32" height="15" fill="rgb(245,176,129)"/>
<rect x="679" y="442" width="31" height="15" fill="rgb(245,173,125)"/>
<rect x="710" y="442" width="31" height="15" fill="rgb(245,173,125)"/>
<rect x="741" y="442" width="32" height="15" fill="rgb(245,173,125)"/>
<rect x="773" y="442" width="31" height="15" fill="rgb(245,176,129)"/>
<rect x="804" y="442" width="32" height="15" fill="rgb(245,193,154)"/>
<rect x="836" y="442" width="31" height="15" fill="rgb(245,171,121)"/>
<rect x="145" y="457" width="31" height="14" fill="rgb(243,197,161)"/>
<rect x="176" y="457" width="32" height="14" fill="rgb(223,217,213)"/>
<rect x="208" y="457" width="31" height="14" fill="rgb(236,204,179)"/>
<rect x="239" y="457" width="32" height="14" fill="rgb(228,212,200)"/>
<rect x="271" y="457" width="31" height="14" fill="rgb(221,219,218)"/>
<rect x="302" y="457" width="31" height="14" fill="rgb(223,217,213)"/>
<rect x="333" y="457" width="32" height="14" fill="rgb(245,181,136)"/>
<rect x="365" y="457" width="31" height="14" fill="rgb(221,219,218)"/>
<rect x="396" y="457" width="32" height="14" fill="rgb(233,207,187)"/>
<rect x="428" y="457" width="31" height="14" fill="rgb(221,219,218)"/>
<rect x="459" y="457" width="31" height="14" fill="rgb(231,209,192)"/>
<rect x="490" y="457" width="32" height="14" fill="rgb(223,217,213)"/>
<rect x="522" y="457" width="31" height="14" fill="rgb(223,217,213)"/>
<rect x="553" y="457" width="31" height="14" fill="rgb(221,219,218)"/>
<rect x="584" y="457" width="32" height="14" fill="rgb(224,216,209)"/>
<rect x="616" y="457" width="31" height="14" fill="rgb(224,216,209)"/>
<rect x="647" y="457" width="32" height="14" fill="rgb(226,214,205)"/>
<rect x="679" y="457" width="31" height="14" fill="rgb(221,219,218)"/>
<rect x="710" y="457" width="31" height="14" fill="rgb(224,216,209)"/>
<rect x="741" y="457" width="32" height="14" fill="rgb(238,202,174)"/>
<rect x="773" y="457" width="31" height="14" fill="rgb(228,212,200)"/>
<rect x="804" y="457" width="32" height="14" fill="rgb(223,217,213)"/>
<rect x="836" y="457" width="31" height="14" fill="rgb(223,217,213)"/>
<rect x="145" y="471" width="31" height="15" fill="rgb(209,80,64)"/>
<rect x="176" y="471" width="32" height="15" fill="rgb(215,93,71)"/>
<rect x="208" y="471" width="31" height="15" fill="rgb(235,138,94)"/>
<rect x="239" y="471" width="32" height="15" fill="rgb(212,86,67)"/>
<rect x="271" y="471" width="31" height="15" fill="rgb(200,59,53)"/>
<rect x="302" y="471" width="31" height="15" fill="rgb(221,107,78)"/>
<rect x="333" y="471" width="32" height="15" fill="rgb(212,86,67)"/>
<rect x="365" y="471" width="31" height="15" fill="rgb(197,52,50)"/>
<rect x="396" y="471" width="32" height="15" fill="rgb(206,73,60)"/>
<rect x="428" y="471" width="31" height="15" fill="rgb(220,104,76)"/>
<rect x="459" y="471" width="31" height="15" fill="rgb(208,76,62)"/>
<rect x="490" y="471" width="32" height="15" fill="rgb(223,110,80)"/>
<rect x="522" y="471" width="31" height="15" fill="rgb(214,90,69)"/>
<rect x="553" y="471" width="31" height="15" fill="rgb(206,73,60)"/>
<rect x="584" y="471" width="32" height="15" fill="rgb(226,117,83)"/>
<rect x="616" y="471" width="31" height="15" fill="rgb(197,52,50)"/>
<rect x="647" y="471" width="32" height="15" fill="rgb(226,117,83)"/>
<rect x="679" y="471" width="31" height="15" fill="rgb(229,124,87)"/>
<rect x="710" y="471" width="31" height="15" fill="rgb(215,93,71)"/>
<rect x="741" y="471" width="32" height="15" fill="rgb(214,90,69)"/>
<rect x="773" y="471" width="31" height="15" fill="rgb(229,124,87)"/>
<rect x="804" y="471" width="32" height="15" fill="rgb(200,59,53)"/>
<rect x="836" y="471" width="31" height="15" fill="rgb(221,107,78)"/>
<rect x="145" y="486" width="31" height="15" fill="rgb(211,83,65)"/>
<rect x="176" y="486" width="32" height="15" fill="rgb(217,97,73)"/>
<rect x="208" y="486" width="31" height="15" fill="rgb(214,90,69)"/>
<rect x="239" y="486" width="32" height="15" fill="rgb(215,93,71)"/>
<rect x="271" y="486" width="31" height="15" fill="rgb(194,45,46)"/>
<rect x="302" y="486" width="31" height="15" fill="rgb(212,86,67)"/>
<rect x="333" y="486" width="32" height="15" fill="rgb(212,86,67)"/>
<rect x="365" y="486" width="31" height="15" fill="rgb(223,110,80)"/>
<rect x="396" y="486" width="32" height="15" fill="rgb(211,83,65)"/>
<rect x="428" y="486" width="31" height="15" fill="rgb(220,104,76)"/>
<rect x="459" y="486" width="31" height="15" fill="rgb(218,100,74)"/>
<rect x="490" y="486" width="32" height="15" fill="rgb(217,97,73)"/>
<rect x="522" y="486" width="31" height="15" fill="rgb(218,100,74)"/>
<rect x="553" y="486" width="31" height="15" fill="rgb(211,83,65)"/>
<rect x="584" y="486" width="32" height="15" fill="rgb(208,76,62)"/>
<rect x="616" y="486" width="31" height="15" fill="rgb(226,117,83)"/>
<rect x="647" y="486" width="32" height="15" fill="rgb(203,66,57)"/>
<rect x="679" y="486" width="31" height="15" fill="rgb(211,83,65)"/>
<rect x="710" y="486" width="31" height="15" fill="rgb(209,80,64)"/>
<rect x="741" y="486" width="32" height="15" fill="rgb(208,76,62)"/>
<rect x="773" y="486" width="31" height="15" fill="rgb(209,80,64)"/>
<rect x="804" y="486" width="32" height="15" fill="rgb(245,169,118)"/>
<rect x="836" y="486" width="31" height="15" fill="rgb(221,107,78)"/>
<rect x="145" y="501" width="31" height="15" fill="rgb(245,183,139)"/>
<rect x="176" y="501" width="32" height="15" fill="rgb(245,188,146)"/>
<rect x="208" y="501" width="31" height="15" fill="rgb(243,197,161)"/>
<rect x="239" y="501" width="32" height="15" fill="rgb(245,188,146)"/>
<rect x="271" y="501" width="31" height="15" fill="rgb(245,188,146)"/>
<rect x="302" y="501" width="31" height="15" fill="rgb(245,190,150)"/>
<rect x="333" y="501" width="32" height="15" fill="rgb(245,188,146)"/>
<rect x="365" y="501" width="31" height="15" fill="rgb(245,183,139)"/>
<rect x="396" y="501" width="32" height="15" fill="rgb(245,193,154)"/>
<rect x="428" y="501" width="31" height="15" fill="rgb(245,171,121)"/>
<rect x="459" y="501" width="31" height="15" fill="rgb(245,190,150)"/>
<rect x="490" y="501" width="32" height="15" fill="rgb(245,185,143)"/>
<rect x="522" y="501" width="31" height="15" fill="rgb(245,193,154)"/>
<rect x="553" y="501" width="31" height="15" fill="rgb(245,195,157)"/>
<rect x="584" y="501" width="32" height="15" fill="rgb(243,197,161)"/>
<rect x="616" y="501" width="31" height="15" fill="rgb(240,200,170)"/>
<rect x="647" y="501" width="32" height="15" fill="rgb(245,195,157)"/>
<rect x="679" y="501" width="31" height="15" fill="rgb(238,202,174)"/>
<rect x="710" y="501" width="31" height="15" fill="rgb(245,185,143)"/>
<rect x="741" y="501" width="32" height="15" fill="rgb(245,185,143)"/>
<rect x="773" y="501" width="31" height="15" fill="rgb(238,202,174)"/>
<rect x="804" y="501" width="32" height="15" fill="rgb(236,204,179)"/>
<rect x="836" y="501" width="31" height="15" fill="rgb(245,173,125)"/>
<rect x="145" y="516" width="31" height="15" fill="rgb(224,114,81)"/>
<rect x="176" y="516" width="32" height="15" fill="rgb(215,93,71)"/>
<rect x="208" y="516" width="31" height="15" fill="rgb(214,90,69)"/>
<rect x="239" y="516" width="32" height="15" fill="rgb(224,114,81)"/>
<rect x="271" y="516" width="31" height="15" fill="rgb(245,193,154)"/>
<rect x="302" y="516" width="31" height="15" fill="rgb(211,83,65)"/>
<rect x="333" y="516" width="32" height="15" fill="rgb(229,124,87)"/>
<rect x="365" y="516" width="31" height="15" fill="rgb(198,56,51)"/>
<rect x="396" y="516" width="32" height="15" fill="rgb(212,86,67)"/>
<rect x="428" y="516" width="31" height="15" fill="rgb(226,117,83)"/>
<rect x="459" y="516" width="31" height="15" fill="rgb(211,83,65)"/>
<rect x="490" y="516" width="32" height="15" fill="rgb(203,66,57)"/>
<rect x="522" y="516" width="31" height="15" fill="rgb(218,100,74)"/>
<rect x="553" y="516" width="31" height="15" fill="rgb(220,104,76)"/>
<rect x="584" y="516" width="32" height="15" fill="rgb(220,104,76)"/>
<rect x="616" y="516" width="31" height="15" fill="rgb(209,80,64)"/>
<rect x="647" y="516" width="32" height="15" fill="rgb(221,107,78)"/>
<rect x="679" y="516" width="31" height="15" fill="rgb(218,100,74)"/>
<rect x="710" y="516" width="31" height="15" fill="rgb(224,114,81)"/>
<rect x="741" y="516" width="32" height="15" fill="rgb(226,117,83)"/>
<rect x="773" y="516" width="31" height="15" fill="rgb(208,76,62)"/>
<rect x="804" y="516" width="32" height="15" fill="rgb(209,80,64)"/>
<rect x="836" y="516" width="31" height="15" fill="rgb(226,117,83)"/>
<rect x="145" y="531" width="31" height="15" fill="rgb(245,164,111)"/>
<rect x="176" y="531" width="32" height="15" fill="rgb(241,152,101)"/>
<rect x="208" y="531" width="31" height="15" fill="rgb(240,148,99)"/>
<rect x="239" y="531" width="32" height="15" fill="rgb(235,138,94)"/>
<rect x="271" y="531" width="31" height="15" fill="rgb(245,173,125)"/>
<rect x="302" y="531" width="31" height="15" fill="rgb(245,161,107)"/>
<rect x="333" y="531" width="32" height="15" fill="rgb(243,155,102)"/>
<rect x="365" y="531" width="31" height="15" fill="rgb(221,107,78)"/>
<rect x="396" y="531" width="32" height="15" fill="rgb(245,181,136)"/>
<rect x="428" y="531" width="31" height="15" fill="rgb(227,121,85)"/>
<rect x="459" y="531" width="31" height="15" fill="rgb(241,152,101)"/>
<rect x="490" y="531" width="32" height="15" fill="rgb(235,138,94)"/>
<rect x="522" y="531" width="31" height="15" fill="rgb(232,131,90)"/>
<rect x="553" y="531" width="31" height="15" fill="rgb(231,128,88)"/>
<rect x="584" y="531" width="32" height="15" fill="rgb(245,173,125)"/>
<rect x="616" y="531" width="31" height="15" fill="rgb(217,97,73)"/>
<rect x="647" y="531" width="32" height="15" fill="rgb(241,152,101)"/>
<rect x="679" y="531" width="31" height="15" fill="rgb(231,128,88)"/>
<rect x="710" y="531" width="31" height="15" fill="rgb(229,124,87)"/>
<rect x="741" y="531" width="32" height="15" fill="rgb(245,173,125)"/>
<rect x="773" y="531" width="31" height="15" fill="rgb(195,49,48)"/>
<rect x="804" y="531" width="32" height="15" fill="rgb(209,80,64)"/>
<rect x="836" y="531" width="31" height="15" fill="rgb(226,117,83)"/>
<rect x="145" y="546" width="31" height="15" fill="rgb(234,135,92)"/>
<rect x="176" y="546" width="32" height="15" fill="rgb(229,124,87)"/>
<rect x="208" y="546" width="31" height="15" fill="rgb(244,159,104)"/>
<rect x="239" y="546" width="32" height="15" fill="rgb(237,141,95)"/>
<rect x="271" y="546" width="31" height="15" fill="rgb(241,152,101)"/>
<rect x="302" y="546" width="31" height="15" fill="rgb(229,124,87)"/>
<rect x="333" y="546" width="32" height="15" fill="rgb(231,128,88)"/>
<rect x="365" y="546" width="31" height="15" fill="rgb(220,104,76)"/>
<rect x="396" y="546" width="32" height="15" fill="rgb(244,159,104)"/>
<rect x="428" y="546" width="31" height="15" fill="rgb(238,145,97)"/>
<rect x="459" y="546" width="31" height="15" fill="rgb(218,100,74)"/>
<rect x="490" y="546" width="32" height="15" fill="rgb(231,128,88)"/>
<rect x="522" y="546" width="31" height="15" fill="rgb(232,131,90)"/>
<rect x="553" y="546" width="31" height="15" fill="rgb(231,128,88)"/>
<rect x="584" y="546" width="32" height="15" fill="rgb(235,138,94)"/>
<rect x="616" y="546" width="31" height="15" fill="rgb(234,135,92)"/>
<rect x="647" y="546" width="32" height="15" fill="rgb(237,141,95)"/>
<rect x="679" y="546" width="31" height="15" fill="rgb(217,97,73)"/>
<rect x="710" y="546" width="31" height="15" fill="rgb(238,145,97)"/>
<rect x="741" y="546" width="32" height="15" fill="rgb(229,124,87)"/>
<rect x="773" y="546" width="31" height="15" fill="rgb(244,159,104)"/>
<rect x="804" y="546" width="32" height="15" fill="rgb(220,104,76)"/>
<rect x="836" y="546" width="31" height="15" fill="rgb(237,141,95)"/>
<rect x="145" y="561" width="31" height="14" fill="rgb(245,185,143)"/>
<rect x="176" y="561" width="32" height="14" fill="rgb(245,185,143)"/>
<rect x="208" y="561" width="31" height="14" fill="rgb(245,195,157)"/>
<rect x="239" y="561" width="32" height="14" fill="rgb(243,197,161)"/>
<rect x="271" y="561" width="31" height="14" fill="rgb(245,185,143)"/>
<rect x="302" y="561" width="31" height="14" fill="rgb(245,183,139)"/>
<rect x="333" y="561" width="32" height="14" fill="rgb(245,185,143)"/>
<rect x="365" y="561" width="31" height="14" fill="rgb(245,193,154)"/>
<rect x="396" y="561" width="32" height="14" fill="rgb(245,190,150)"/>
<rect x="428" y="561" width="31" height="14" fill="rgb(245,183,139)"/>
<rect x="459" y="561" width="31" height="14" fill="rgb(245,188,146)"/>
<rect x="490" y="561" width="32" height="14" fill="rgb(245,185,143)"/>
<rect x="522" y="561" width="31" height="14" fill="rgb(242,198,166)"/>
<rect x="553" y="561" width="31" height="14" fill="rgb(245,188,146)"/>
<rect x="584" y="561" width="32" height="14" fill="rgb(244,159,104)"/>
<rect x="616" y="561" width="31" height="14" fill="rgb(236,204,179)"/>
<rect x="647" y="561" width="32" height="14" fill="rgb(236,204,179)"/>
<rect x="679" y="561" width="31" height="14" fill="rgb(245,185,143)"/>
<rect x="710" y="561" width="31" height="14" fill="rgb(245,190,150)"/>
<rect x="741" y="561" width="32" height="14" fill="rgb(245,185,143)"/>
<rect x="773" y="561" width="31" height="14" fill="rgb(245,176,129)"/>
<rect x="804" y="561" width="32" height="14" fill="rgb(245,181,136)"/>
<rect x="836" y="561" width="31" height="14" fill="rgb(245,183,139)"/>
<rect x="145" y="575" width="31" height="15" fill="rgb(245,166,114)"/>
<rect x="176" y="575" width="32" height="15" fill="rgb(241,152,101)"/>
<rect x="208" y="575" width="31" height="15" fill="rgb(245,185,143)"/>
<rect x="239" y="575" width="32" height="15" fill="rgb(245,185,143)"/>
<rect x="271" y="575" width="31" height="15" fill="rgb(245,173,125)"/>
<rect x="302" y="575" width="31" height="15" fill="rgb(235,138,94)"/>
<rect x="333" y="575" width="32" height="15" fill="rgb(245,161,107)"/>
<rect x="365" y="575" width="31" height="15" fill="rgb(245,193,154)"/>
<rect x="396" y="575" width="32" height="15" fill="rgb(245,178,132)"/>
<rect x="428" y="575" width="31" height="15" fill="rgb(245,169,118)"/>
<rect x="459" y="575" width="31" height="15" fill="rgb(245,176,129)"/>
<rect x="490" y="575" width="32" height="15" fill="rgb(245,171,121)"/>
<rect x="522" y="575" width="31" height="15" fill="rgb(245,188,146)"/>
<rect x="553" y="575" width="31" height="15" fill="rgb(245,176,129)"/>
<rect x="584" y="575" width="32" height="15" fill="rgb(245,183,139)"/>
<rect x="616" y="575" width="31" height="15" fill="rgb(245,176,129)"/>
<rect x="647" y="575" width="32" height="15" fill="rgb(245,178,132)"/>
<rect x="679" y="575" width="31" height="15" fill="rgb(245,166,114)"/>
<rect x="710" y="575" width="31" height="15" fill="rgb(245,188,146)"/>
<rect x="741" y="575" width="32" height="15" fill="rgb(245,164,111)"/>
<rect x="773" y="575" width="31" height="15" fill="rgb(245,188,146)"/>
<rect x="804" y="575" width="32" height="15" fill="rgb(245,181,136)"/>
<rect x="836" y="575" width="31" height="15" fill="rgb(245,176,129)"/>
<rect x="145" y="590" width="31" height="15" fill="rgb(228,212,200)"/>
<rect x="176" y="590" width="32" height="15" fill="rgb(238,202,174)"/>
<rect x="208" y="590" width="31" height="15" fill="rgb(245,185,143)"/>
<rect x="239" y="590" width="32" height="15" fill="rgb(243,197,161)"/>
<rect x="271" y="590" width="31" height="15" fill="rgb(231,209,192)"/>
<rect x="302" y="590" width="31" height="15" fill="rgb(245,193,154)"/>
<rect x="333" y="590" width="32" height="15" fill="rgb(228,212,200)"/>
<rect x="365" y="590" width="31" height="15" fill="rgb(245,169,118)"/>
<rect x="396" y="590" width="32" height="15" fill="rgb(235,205,183)"/>
<rect x="428" y="590" width="31" height="15" fill="rgb(245,185,143)"/>
<rect x="459" y="590" width="31" height="15" fill="rgb(245,190,150)"/>
<rect x="490" y="590" width="32" height="15" fill="rgb(240,200,170)"/>
<rect x="522" y="590" width="31" height="15" fill="rgb(233,207,187)"/>
<rect x="553" y="590" width="31" height="15" fill="rgb(236,204,179)"/>
<rect x="584" y="590" width="32" height="15" fill="rgb(245,161,107)"/>
<rect x="616" y="590" width="31" height="15" fill="rgb(245,178,132)"/>
<rect x="647" y="590" width="32" height="15" fill="rgb(245,178,132)"/>
<rect x="679" y="590" width="31" height="15" fill="rgb(228,212,200)"/>
<rect x="710" y="590" width="31" height="15" fill="rgb(245,193,154)"/>
<rect x="741" y="590" width="32" height="15" fill="rgb(226,214,205)"/>
<rect x="773" y="590" width="31" height="15" fill="rgb(245,188,146)"/>
<rect x="804" y="590" width="32" height="15" fill="rgb(245,164,111)"/>
<rect x="836" y="590" width="31" height="15" fill="rgb(245,193,154)"/>
<rect x="145" y="605" width="31" height="15" fill="rgb(245,176,129)"/>
<rect x="176" y="605" width="32" height="15" fill="rgb(245,176,129)"/>
<rect x="208" y="605" width="31" height="15" fill="rgb(245,181,136)"/>
<rect x="239" y="605" width="32" height="15" fill="rgb(245,164,111)"/>
<rect x="271" y="605" width="31" height="15" fill="rgb(245,173,125)"/>
<rect x="302" y="605" width="31" height="15" fill="rgb(245,178,132)"/>
<rect x="333" y="605" width="32" height="15" fill="rgb(245,178,132)"/>
<rect x="365" y="605" width="31" height="15" fill="rgb(245,166,114)"/>
<rect x="396" y="605" width="32" height="15" fill="rgb(245,161,107)"/>
<rect x="428" y="605" width="31" height="15" fill="rgb(245,169,118)"/>
<rect x="459" y="605" width="31" height="15" fill="rgb(245,173,125)"/>
<rect x="490" y="605" width="32" height="15" fill="rgb(245,176,129)"/>
<rect x="522" y="605" width="31" height="15" fill="rgb(244,159,104)"/>
<rect x="553" y="605" width="31" height="15" fill="rgb(241,152,101)"/>
<rect x="584" y="605" width="32" height="15" fill="rgb(243,155,102)"/>
<rect x="616" y="605" width="31" height="15" fill="rgb(237,141,95)"/>
<rect x="647" y="605" width="32" height="15" fill="rgb(245,164,111)"/>
<rect x="679" y="605" width="31" height="15" fill="rgb(245,169,118)"/>
<rect x="710" y="605" width="31" height="15" fill="rgb(243,155,102)"/>
<rect x="741" y="605" width="32" height="15" fill="rgb(245,171,121)"/>
<rect x="773" y="605" width="31" height="15" fill="rgb(245,173,125)"/>
<rect x="804" y="605" width="32" height="15" fill="rgb(245,166,114)"/>
<rect x="836" y="605" width="31" height="15" fill="rgb(245,166,114)"/>
</g>
<path class="tk" d="M139.5,107.43h4.5M139.5,122.29h4.5M139.5,137.14h4.5M139.5,152.00h4.5M139.5,166.86h4.5M139.5,181.71h4.5M139.5,196.57h4.5M139.5,211.43h4.5M139.5,226.29h4.5M139.5,241.14h4.5M139.5,256.00h4.5M139.5,270.86h4.5M139.5,285.71h4.5M139.5,300.57h4.5M139.5,315.43h4.5M139.5,330.29h4.5M139.5,345.14h4.5M139.5,360.00h4.5M139.5,374.86h4.5M139.5,389.71h4.5M139.5,404.57h4.5M139.5,419.43h4.5M139.5,434.29h4.5M139.5,449.14h4.5M139.5,464.00h4.5M139.5,478.86h4.5M139.5,493.71h4.5M139.5,508.57h4.5M139.5,523.43h4.5M139.5,538.29h4.5M139.5,553.14h4.5M139.5,568.00h4.5M139.5,582.86h4.5M139.5,597.71h4.5M139.5,612.57h4.5"/>
<text class="yl" x="139.1" y="111.13">Aggressiveness</text>
<text class="yl" x="139.1" y="125.99">Being Dominant/Master</text>
<text class="yl" x="139.1" y="140.84">Being Submissive/Slave</text>
<text class="yl" x="139.1" y="155.70">Blindfolding</text>
<text class="yl" x="139.1" y="170.56">Bondage</text>
<text class="yl" x="139.1" y="185.41">Bubble Bath for 2</text>
<text class="yl" x="139.1" y="200.27">Cuddling &amp; Hugging</text>
<text class="yl" x="139.1" y="215.13">Curious - Domination</text>
<text class="yl" x="139.1" y="229.99">Curious - Submission</text>
<text class="yl" x="139.1" y="244.84">Dressing Up/Lingerie</text>
<text class="yl" x="139.1" y="259.70">Erotic Movies</text>
<text class="yl" x="139.1" y="274.56">Erotic Tickling</text>
<text class="yl" x="139.1" y="289.41">Experimenting with Tantric Sex</text>
<text class="yl" x="139.1" y="304.27">Exploring with Sex Toys</text>
<text class="yl" x="139.1" y="319.13">Fetishes</text>
<text class="yl" x="139.1" y="333.99">Gentleness</text>
<text class="yl" x="139.1" y="348.84">Good With Your Hands</text>
<text class="yl" x="139.1" y="363.70">Kissing</text>
<text class="yl" x="139.1" y="378.56">Light Kinky Fun</text>
<text class="yl" x="139.1" y="393.41">Likes to Give Oral Sex</text>
<text class="yl" x="139.1" y="408.27">Likes to Go Slow</text>
<text class="yl" x="139.1" y="423.13">Likes to Receive Oral Sex</text>
<text class="yl" x="139.1" y="437.99">Likes to be Watched/Exhibitionism</text>
<text class="yl" x="139.1" y="452.84">Lots of Stamina</text>
<text class="yl" x="139.1" y="467.70">Nothing Kinky</text>
<text class="yl" x="139.1" y="482.56">One-Night Stands</text>
<text class="yl" x="139.1" y="497.41">Open to Experimentation</text>
<text class="yl" x="139.1" y="512.27">Role Playing</text>
<text class="yl" x="139.1" y="527.13">Sensual Massage</text>
<text class="yl" x="139.1" y="541.99">Sex Talk</text>
<text class="yl" x="139.1" y="556.84">Sharing Fantasies</text>
<text class="yl" x="139.1" y="571.70">Someone I Can Teach</text>
<text class="yl" x="139.1" y="586.56">Someone Who Can Teach Me</text>
<text class="yl" x="139.1" y="601.41">Spanking</text>
<text class="yl" x="139.1" y="616.27">Threesome</text>
<path class="tk" d="M160.70,620.7v5M192.09,620.7v5M223.48,620.7v5M254.87,620.7v5M286.26,620.7v5M317.65,620.7v5M349.04,620.7v5M380.43,620.7v5M411.83,620.7v5M443.22,620.7v5M474.61,620.7v5M506.00,620.7v5M537.39,620.7v5M568.78,620.7v5M600.17,620.7v5M631.57,620.7v5M662.96,620.7v5M694.35,620.7v5M725.74,620.7v5M757.13,620.7v5M788.52,620.7v5M819.91,620.7v5M851.30,620.7v5"/>
<text class="xl" x="160.70" y="635.8" transform="rotate(30,160.70,630.8)">Austria</text>
<text class="xl" x="192.09" y="635.8" transform="rotate(30,192.09,630.8)">Belgium</text>
<text class="xl" x="223.48" y="635.8" transform="rotate(30,223.48,630.8)">Czech Republic</text>
<text class="xl" x="254.87" y="635.8" transform="rotate(30,254.87,630.8)">Denmark</text>
<text class="xl" x="286.26" y="635.8" transform="rotate(30,286.26,630.8)">Finland</text>
<text class="xl" x="317.65" y="635.8" transform="rotate(30,317.65,630.8)">France</text>
<text class="xl" x="349.04" y="635.8" transform="rotate(30,349.04,630.8)">Germany</text>
<text class="xl" x="380.43" y="635.8" transform="rotate(30,380.43,630.8)">Greece</text>
<text class="xl" x="411.83" y="635.8" transform="rotate(30,411.83,630.8)">Hungary</text>
<text class="xl" x="443.22" y="635.8" transform="rotate(30,443.22,630.8)">Ireland</text>
<text class="xl" x="474.61" y="635.8" transform="rotate(30,474.61,630.8)">Italy</text>
<text class="xl" x="506.00" y="635.8" transform="rotate(30,506.00,630.8)">Luxembourg</text>
<text class="xl" x="537.39" y="635.8" transform="rotate(30,537.39,630.8)">Netherlands</text>
<text class="xl" x="568.78" y="635.8" transform="rotate(30,568.78,630.8)">Norway</text>
<text class="xl" x="600.17" y="635.8" transform="rotate(30,600.17,630.8)">Poland</text>
<text class="xl" x="631.57" y="635.8" transform="rotate(30,631.57,630.8)">Portugal</text>
<text class="xl" x="662.96" y="635.8" transform="rotate(30,662.96,630.8)">Slovakia</text>
<text class="xl" x="694.35" y="635.8" transform="rotate(30,694.35,630.8)">Spain</text>
<text class="xl" x="725.74" y="635.8" transform="rotate(30,725.74,630.8)">Sweden</text>
<text class="xl" x="757.13" y="635.8" transform="rotate(30,757.13,630.8)">Switzerland</text>
<text class="xl" x="788.52" y="635.8" transform="rotate(30,788.52,630.8)">Thailand</text>
<text class="xl" x="819.91" y="635.8" transform="rotate(30,819.91,630.8)">Turkey</text>
<text class="xl" x="851.30" y="635.8" transform="rotate(30,851.30,630.8)">United Kingdom</text>
<text x="500" y="50" text-anchor="middle" style="font-size:21px">Open to - Europe - Males</text>
<rect x="880.5" y="99.5" width="106.5" height="521" fill="#fff" stroke="#aaa" stroke-width="1"/>
<defs><linearGradient id="g" x1="0" y1="1" x2="0" y2="0">
<stop offset="0" stop-color="rgb(220,220,220)"/>
<stop offset="0.2" stop-color="rgb(245,195,157)"/>
<stop offset="0.4" stop-color="rgb(245,160,105)"/>
<stop offset="1" stop-color="rgb(178,10,28)"/>
</linearGradient></defs>
<rect x="891" y="150.5" width="30" height="459.5" fill="url(#g)"/>
<rect x="891" y="150.5" width="30" height="459.5" fill="none" stroke="#444" stroke-width="1"/>
<text class="cb" x="923.1" y="562.39">1</text>
<text class="cb" x="923.1" y="499.19">2</text>
<text class="cb" x="923.1" y="435.99">3</text>
<text class="cb" x="923.1" y="372.79">4</text>
<text class="cb" x="923.1" y="309.59">5</text>
<text class="cb" x="923.1" y="246.39">6</text>
<text class="cb" x="923.1" y="183.19">7</text>
<text class="cb" x="891.3" y="123.75">Percentage of</text>
<text class="cb" x="891.3" y="143.25"> male users</text>
</svg></body></html>
